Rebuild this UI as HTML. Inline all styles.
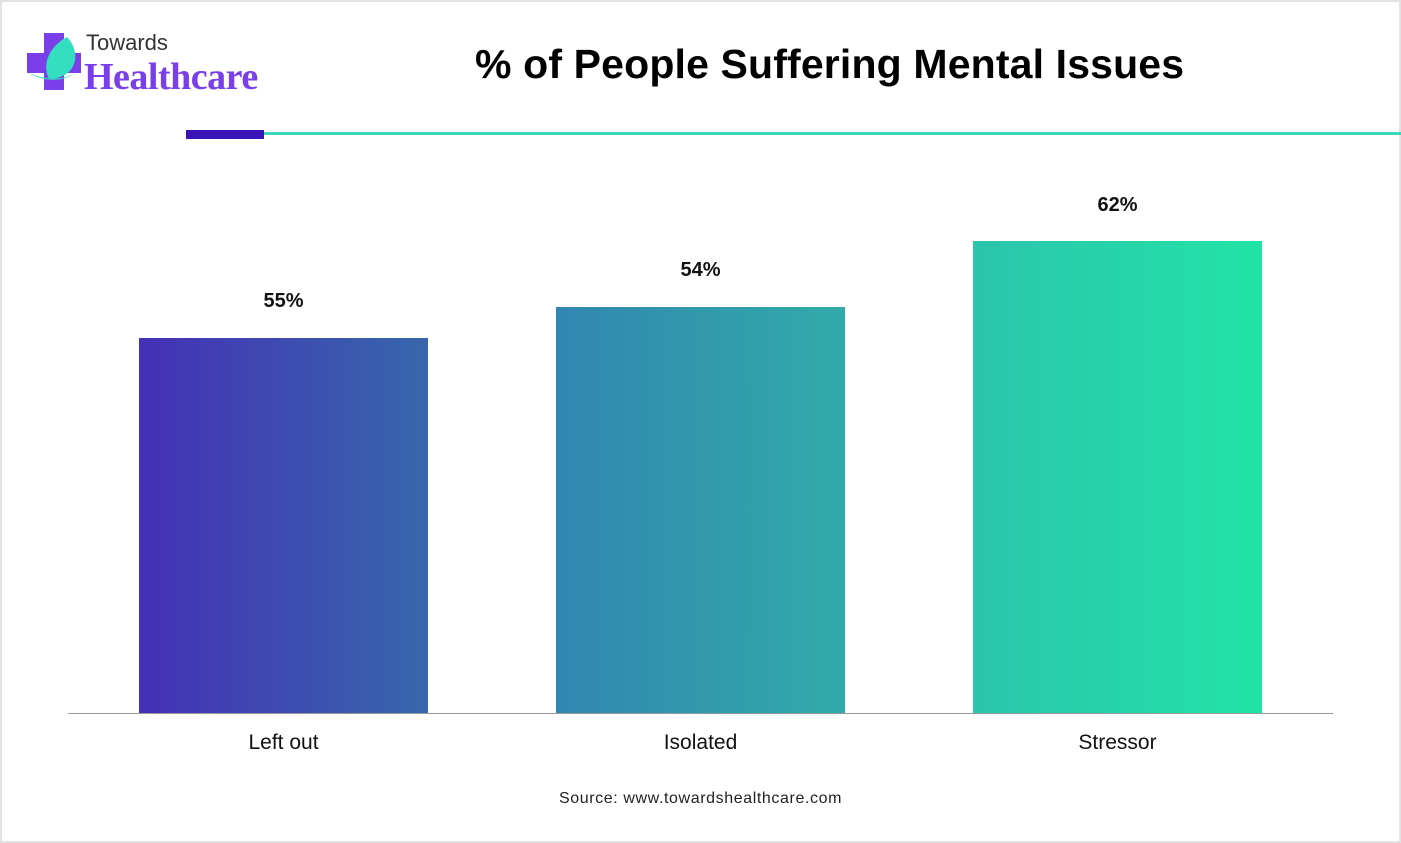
<!DOCTYPE html>
<html><head><style>
body{margin:0;width:1401px;height:843px;background:#fff;position:relative;overflow:hidden;font-family:"Liberation Sans",sans-serif}
.frame{position:absolute;left:0;top:0;width:1397px;height:839px;border:2px solid #e2e2e2}
.t{position:absolute;white-space:nowrap}
.bar{position:absolute}
.v{position:absolute;font-weight:bold;font-size:20px;color:#111;text-align:center;width:289px}
.c{position:absolute;font-size:21px;color:#111;text-align:center;width:289px;top:731px}
</style></head><body>
<div class="frame"></div>
<svg style="position:absolute;left:27px;top:33px" width="56" height="58">
<rect x="0" y="20" width="54" height="20" fill="#7b3fe9"/>
<rect x="17" y="0" width="20" height="57" fill="#7b3fe9"/>
<path d="M40 4 C55 20 50 45 22 46 C14 30 24 12 40 4Z" fill="#33dfc0"/>
<path d="M2 40 C15 48 35 50 48 40 C35 48 18 47 2 40Z" fill="#33dfc0"/>
</svg>
<div class="t" style="left:86px;top:30px;font-size:22px;color:#333">Towards</div>
<div class="t" style="left:84px;top:55px;font-size:38px;font-weight:bold;color:#7b3fe9;font-family:'Liberation Serif',serif;letter-spacing:-0.5px">Healthcare</div>
<div class="t" style="left:475px;top:41px;font-size:41px;font-weight:bold;color:#000;letter-spacing:0.15px">% of People Suffering Mental Issues</div>
<div style="position:absolute;left:186px;top:130px;width:78px;height:9px;background:#3a14b8"></div>
<div style="position:absolute;left:264px;top:132px;width:1137px;height:3px;background:#3cd8b6"></div>
<div class="bar" style="left:139px;top:338px;width:289px;height:375px;background:linear-gradient(90deg,#4530b6,#3767ac)"></div>
<div class="bar" style="left:556px;top:307px;width:289px;height:406px;background:linear-gradient(90deg,#3286b0,#31aba9)"></div>
<div class="bar" style="left:973px;top:241px;width:289px;height:472px;background:linear-gradient(90deg,#2bc4ad,#22e4a6)"></div>
<div style="position:absolute;left:68px;top:713px;width:1265px;height:1px;background:#999"></div>
<div class="v" style="left:139px;top:290px">55%</div>
<div class="v" style="left:556px;top:259px">54%</div>
<div class="v" style="left:973px;top:194px">62%</div>
<div class="c" style="left:139px">Left out</div>
<div class="c" style="left:556px">Isolated</div>
<div class="c" style="left:973px">Stressor</div>
<div class="t" style="left:0;width:1401px;text-align:center;top:790px;font-size:16px;color:#222;letter-spacing:0.6px">Source: www.towardshealthcare.com</div>
</body></html>
